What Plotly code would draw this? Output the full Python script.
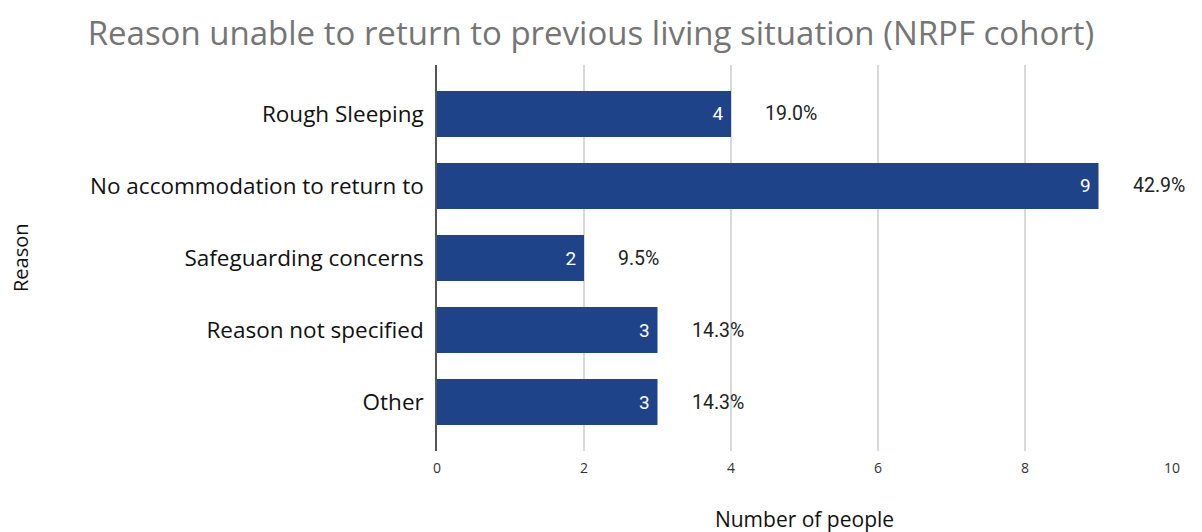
import plotly.graph_objects as go

categories = ["Rough Sleeping", "No accommodation to return to", "Safeguarding concerns",
              "Reason not specified", "Other"]
counts = [4, 9, 2, 3, 3]
percent_labels = ["19.0%", "42.9%", "9.5%", "14.3%", "14.3%"]
x_ticks = [0, 2, 4, 6, 8, 10]

BAR = "#1e4389"

fig = go.Figure()
fig.add_trace(go.Bar(
    x=counts, y=categories, orientation="h",
    marker=dict(color=BAR, line=dict(width=0)),
    width=0.64,
    texttemplate="%{x}\u00a0", textposition="inside", insidetextanchor="end",
    textfont=dict(color="white", size=19, family="Roboto"),
    hoverinfo="skip",
))

for cat, c, p in zip(categories, counts, percent_labels):
    fig.add_annotation(x=c, y=cat, xref="x", yref="y", text=p, showarrow=False,
                       xanchor="left", xshift=32,
                       font=dict(size=19.5, color="#222222", family="Roboto"))

fig.add_annotation(x=0, y=0.5, xref="paper", yref="paper", text="Reason", showarrow=False,
                   textangle=-90, xanchor="center", xshift=-417,
                   font=dict(size=20, color="#111111", family="Open Sans"))

fig.update_layout(
    width=1202, height=532,
    margin=dict(l=429, r=38, t=57, b=87),
    paper_bgcolor="white", plot_bgcolor="white",
    showlegend=False,
    title=dict(text="Reason unable to return to previous living situation (NRPF cohort)",
               x=0.485, xanchor="center", y=0.953, yanchor="middle",
               font=dict(size=33, color="#757575", family="Open Sans")),
    xaxis=dict(range=[0, 10], tickvals=x_ticks, showgrid=True, gridcolor="#d9d9d9", gridwidth=2,
               zeroline=False, showline=False, ticks="", ticklabelstandoff=7,
               tickfont=dict(size=14, color="#333333", family="Open Sans"),
               title=dict(text="Number of people", standoff=36,
                          font=dict(size=21, color="#111111", family="Open Sans"))),
    yaxis=dict(autorange=False, range=[4.68, -0.68], categoryorder="array", categoryarray=categories,
               showline=True, linecolor="#555555", linewidth=1.5, ticks="",
               ticklabelstandoff=7, showgrid=False,
               tickfont=dict(size=22.5, color="#111111", family="Open Sans")),
)

fig.write_html("out.html")
